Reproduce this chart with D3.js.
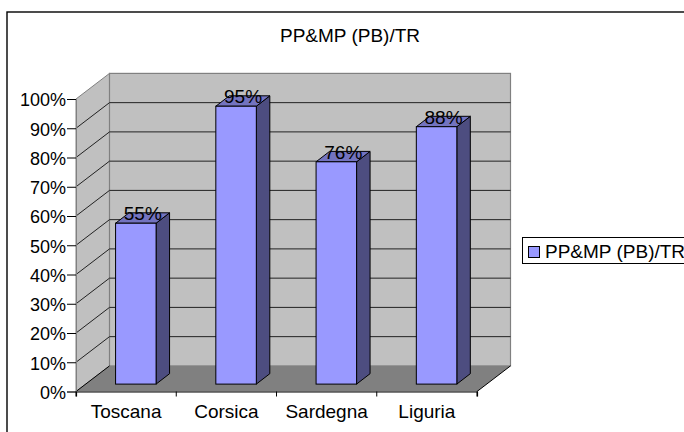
<!DOCTYPE html>
<html>
<head>
<meta charset="utf-8">
<script src="https://cdn.jsdelivr.net/npm/d3@7/dist/d3.min.js"></script>
<style>
  html, body { margin: 0; padding: 0; background: #fff; overflow: hidden; }
  text { font-family: "Liberation Sans", Arial, sans-serif; fill: #000; }
</style>
</head>
<body>
<div id="chart"></div>
<script>
var title = 'PP&MP (PB)/TR'
var categories = ['Toscana', 'Corsica', 'Sardegna', 'Liguria']
var seriesValues = [55, 95, 76, 88]
var tickValues = [0, 10, 20, 30, 40, 50, 60, 70, 80, 90, 100]

var width = 684
var height = 432
var fontSize = 19

// front plane of the 3d box
var x = d3.scaleBand().domain(categories).range([76, 477])
var y = d3.scaleLinear().domain([0, 100]).range([391.5, 99])
var depth = { dx: 33.5, dy: -25.6 }
var barDepth = { dx: 13.5, dy: -10.4 }
var barShift = { dx: 9.7, dy: -7.4 }
var barWidth = 40.5

var wallColor = '#c0c0c0'
var floorColor = '#808080'
var edgeColor = '#808080'
var barFront = '#9999ff'
var barSide = '#4d4d80'
var barTop = '#7373bf'

var svg = d3.select('#chart')
  .append('svg')
  .attr('width', width)
  .attr('height', height)
  .style('display', 'block')

function poly (points) {
  return points.map(function (p) { return p.join(',') }).join(' ')
}

svg.append('rect')
  .attr('x', 7)
  .attr('y', 12)
  .attr('width', 690)
  .attr('height', 430)
  .attr('fill', '#fff')
  .attr('stroke', '#000')
  .attr('stroke-width', 1.4)

var x0 = x.range()[0]
var x1 = x.range()[1]

// side wall
svg.append('polygon')
  .attr('points', poly([
    [x0, y(0)], [x0, y(100)],
    [x0 + depth.dx, y(100) + depth.dy], [x0 + depth.dx, y(0) + depth.dy]
  ]))
  .attr('fill', wallColor)
  .attr('stroke', edgeColor)

// back wall
svg.append('rect')
  .attr('x', x0 + depth.dx)
  .attr('y', y(100) + depth.dy)
  .attr('width', x1 - x0)
  .attr('height', y(0) - y(100))
  .attr('fill', wallColor)
  .attr('stroke', edgeColor)
  .attr('stroke-width', 1.2)

// floor
svg.append('polygon')
  .attr('points', poly([
    [x0, y(0)], [x1, y(0)],
    [x1 + depth.dx, y(0) + depth.dy], [x0 + depth.dx, y(0) + depth.dy]
  ]))
  .attr('fill', floorColor)

// gridlines run along the side wall and then across the back wall
svg.append('g')
  .selectAll('polyline')
  .data(tickValues.slice(1, -1))
  .enter().append('polyline')
  .attr('points', function (d) {
    return poly([
      [x0, y(d)],
      [x0 + depth.dx, y(d) + depth.dy],
      [x1 + depth.dx, y(d) + depth.dy]
    ])
  })
  .attr('fill', 'none')
  .attr('stroke', '#222')
  .attr('stroke-width', 1)

svg.append('line')
  .attr('x1', x0)
  .attr('y1', y(0))
  .attr('x2', x0 + depth.dx)
  .attr('y2', y(0) + depth.dy)
  .attr('stroke', '#000')

svg.append('line')
  .attr('x1', x1)
  .attr('y1', y(0))
  .attr('x2', x1 + depth.dx)
  .attr('y2', y(0) + depth.dy)
  .attr('stroke', '#000')

// bars
var bars = svg.append('g')
  .selectAll('g')
  .data(categories)
  .enter().append('g')

function barLeft (d) {
  return x(d) + (x.bandwidth() - barWidth) / 2 + barShift.dx
}
function barBase () {
  return y(0) + barShift.dy
}
function barHead (d, i) {
  return barBase() - (y(0) - y(seriesValues[i]))
}

bars.append('polygon')
  .attr('points', function (d, i) {
    var l = barLeft(d) + barWidth
    return poly([
      [l, barBase()], [l, barHead(d, i)],
      [l + barDepth.dx, barHead(d, i) + barDepth.dy],
      [l + barDepth.dx, barBase() + barDepth.dy]
    ])
  })
  .attr('fill', barSide)
  .attr('stroke', '#000')
  .attr('stroke-linejoin', 'round')

bars.append('polygon')
  .attr('points', function (d, i) {
    var l = barLeft(d)
    return poly([
      [l, barHead(d, i)], [l + barWidth, barHead(d, i)],
      [l + barWidth + barDepth.dx, barHead(d, i) + barDepth.dy],
      [l + barDepth.dx, barHead(d, i) + barDepth.dy]
    ])
  })
  .attr('fill', barTop)
  .attr('stroke', '#000')
  .attr('stroke-linejoin', 'round')

bars.append('rect')
  .attr('x', barLeft)
  .attr('y', barHead)
  .attr('width', barWidth)
  .attr('height', function (d, i) { return y(0) - y(seriesValues[i]) })
  .attr('fill', barFront)
  .attr('stroke', '#000')

bars.append('text')
  .attr('x', function (d) { return barLeft(d) + barWidth / 2 + 7 })
  .attr('y', function (d, i) { return barHead(d, i) - 3 })
  .attr('text-anchor', 'middle')
  .attr('font-size', fontSize)
  .text(function (d, i) { return seriesValues[i] + '%' })

// axes
var yAxis = d3.axisLeft(y)
  .tickValues(tickValues)
  .tickSize(9)
  .tickPadding(1)
  .tickFormat(function (d) { return d + '%' })

var yAxisG = svg.append('g')
  .attr('transform', 'translate(' + x0 + ',0)')
  .call(yAxis)

yAxisG.select('.domain').attr('stroke', edgeColor)
yAxisG.selectAll('text')
  .attr('font-size', 18)
  .attr('y', 1)
  .attr('font-family', '"Liberation Sans", Arial, sans-serif')

var xAxis = d3.axisBottom(x)
  .tickSizeOuter(0)
  .tickSize(5)
  .tickPadding(8)

var xAxisG = svg.append('g')
  .attr('transform', 'translate(0,' + y(0) + ')')
  .call(xAxis)

xAxisG.selectAll('.tick line').remove()
xAxisG.selectAll('.seam')
  .data(categories.concat(['end']))
  .enter().append('line')
  .attr('x1', function (d, i) { return x0 + i * x.step() })
  .attr('x2', function (d, i) { return x0 + i * x.step() })
  .attr('y1', 0)
  .attr('y2', 5)
  .attr('stroke', '#000')
xAxisG.select('.domain').attr('stroke', '#000').attr('stroke-width', 1.2)
xAxisG.selectAll('text')
  .attr('font-size', fontSize)
  .attr('font-family', '"Liberation Sans", Arial, sans-serif')

svg.append('text')
  .attr('x', 350)
  .attr('y', 42)
  .attr('text-anchor', 'middle')
  .attr('font-size', fontSize)
  .text(title)

// legend, runs off the right edge like the reference
svg.append('rect')
  .attr('x', 522.5)
  .attr('y', 237.5)
  .attr('width', 180)
  .attr('height', 26)
  .attr('fill', '#fff')
  .attr('stroke', '#000')

svg.append('rect')
  .attr('x', 528.5)
  .attr('y', 246.5)
  .attr('width', 11)
  .attr('height', 11)
  .attr('fill', barFront)
  .attr('stroke', '#000')

svg.append('text')
  .attr('x', 545)
  .attr('y', 258)
  .attr('font-size', fontSize)
  .text(title)
</script>
</body>
</html>
